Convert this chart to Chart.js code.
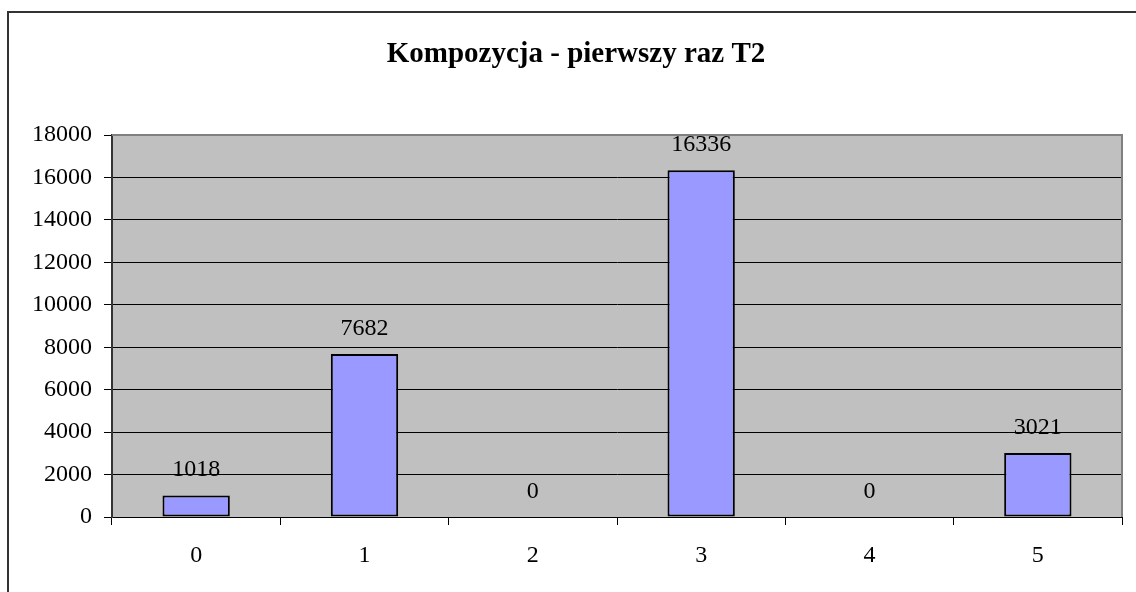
<!DOCTYPE html>
<html>
<head>
<meta charset="utf-8">
<script src="https://cdn.jsdelivr.net/npm/chart.js@4/dist/chart.umd.min.js"></script>
<style>
	html, body { margin: 0; padding: 0; background: #fff; }
	#wrap { position: absolute; left: 0; top: 0; width: 1136px; height: 592px; }
</style>
</head>
<body>
<div id="wrap"><canvas id="chart" width="1136" height="592"></canvas></div>
<script>
// dane z wykresu
const categories = ['0', '1', '2', '3', '4', '5'];
const values = [1018, 7682, 0, 16336, 0, 3021];
const yTicks = [0, 2000, 4000, 6000, 8000, 10000, 12000, 14000, 16000, 18000];
const chartTitle = 'Kompozycja - pierwszy raz T2';

const serif = '"Liberation Serif", "Times New Roman", serif';

// tło, ramka i szare pole wykresu
const framePlugin = {
	id: 'frame',
	beforeDraw(chart) {
		const { ctx, chartArea: a } = chart;
		ctx.save();
		ctx.fillStyle = '#fff';
		ctx.fillRect(0, 0, chart.width, chart.height);
		ctx.strokeStyle = '#333';
		ctx.lineWidth = 2;
		ctx.beginPath();
		ctx.moveTo(8, chart.height);
		ctx.lineTo(8, 12);
		ctx.lineTo(chart.width, 12);
		ctx.stroke();
		ctx.fillStyle = '#c0c0c0';
		ctx.fillRect(a.left, a.top, a.right - a.left, a.bottom - a.top);
		ctx.restore();
	},
	afterDraw(chart) {
		const { ctx, chartArea: a } = chart;
		ctx.save();
		ctx.strokeStyle = '#808080';
		ctx.lineWidth = 2;
		ctx.beginPath();
		ctx.moveTo(a.left, a.top);
		ctx.lineTo(a.right, a.top);
		ctx.lineTo(a.right, a.bottom);
		ctx.stroke();
		ctx.restore();
	},
};

// etykiety wartości nad słupkami
const valueLabels = {
	id: 'valueLabels',
	afterDatasetsDraw(chart) {
		const { ctx } = chart;
		const meta = chart.getDatasetMeta(0);
		ctx.save();
		ctx.font = '24px ' + serif;
		ctx.fillStyle = '#000';
		ctx.textAlign = 'center';
		ctx.textBaseline = 'alphabetic';
		meta.data.forEach((bar, i) => {
			ctx.fillText(String(values[i]), bar.x, bar.y - 19);
		});
		ctx.restore();
	},
};

new Chart(document.getElementById('chart'), {
	type: 'bar',
	data: {
		labels: categories,
		datasets: [
			{
				data: values,
				backgroundColor: '#9999ff',
				borderColor: '#000',
				borderWidth: 2,
				borderSkipped: false,
				categoryPercentage: 1,
				barPercentage: 0.4,
			},
		],
	},
	options: {
		responsive: false,
		animation: false,
		layout: { padding: { left: 30, right: 14, top: 0, bottom: 0 } },
		plugins: {
			legend: { display: false },
			tooltip: { enabled: false },
			title: {
				display: true,
				text: chartTitle,
				color: '#000',
				font: { family: serif, size: 29, weight: 'bold', lineHeight: 1.2 },
				padding: { top: 37.6, bottom: 62.6 },
			},
		},
		scales: {
			x: {
				offset: true,
				grid: {
					offset: true,
					drawOnChartArea: false,
					drawTicks: true,
					tickLength: 8,
					color: '#000',
				},
				border: { color: '#000', width: 1 },
				ticks: {
					color: '#000',
					padding: 16,
					font: { family: serif, size: 24 },
				},
				afterFit(scale) {
					scale.height = 75;
				},
			},
			y: {
				min: 0,
				max: 18000,
				afterBuildTicks(scale) {
					scale.ticks = yTicks.map((v) => ({ value: v }));
				},
				grid: {
					color: (c) => (c.tick && c.tick.value === 18000 ? '#808080' : '#000'),
					tickColor: '#000',
					tickLength: 8,
				},
				border: { color: '#333', width: 2 },
				ticks: {
					color: '#000',
					padding: 12,
					font: { family: serif, size: 24 },
					callback: (v) => String(v),
				},
				afterFit(scale) {
					scale.width = 82;
				},
			},
		},
	},
	plugins: [framePlugin, valueLabels],
});
</script>
</body>
</html>
